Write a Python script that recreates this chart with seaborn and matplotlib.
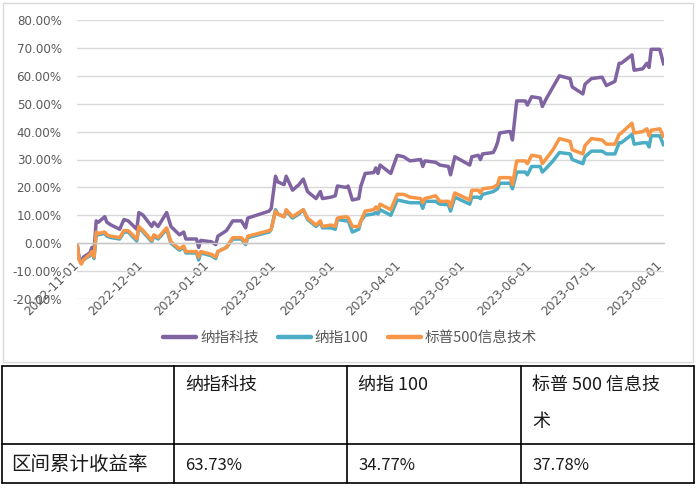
import matplotlib
matplotlib.use("Agg")
import matplotlib.pyplot as plt
import matplotlib.dates as mdates
from matplotlib.lines import Line2D
from matplotlib.patches import Rectangle
from matplotlib.ticker import FuncFormatter, MultipleLocator
import seaborn as sns
import pandas as pd

# ---------------- data (cumulative return, %) ----------------
dates = [
    "2022-11-01", "2022-11-02", "2022-11-03", "2022-11-04", "2022-11-07", "2022-11-08",
    "2022-11-09", "2022-11-10", "2022-11-11", "2022-11-14", "2022-11-15", "2022-11-17",
    "2022-11-21", "2022-11-23", "2022-11-25", "2022-11-29", "2022-11-30", "2022-12-02",
    "2022-12-06", "2022-12-07", "2022-12-09", "2022-12-13", "2022-12-15", "2022-12-19",
    "2022-12-21", "2022-12-22", "2022-12-27", "2022-12-28", "2022-12-29", "2023-01-03",
    "2023-01-05", "2023-01-06", "2023-01-10", "2023-01-13", "2023-01-17", "2023-01-19",
    "2023-01-20", "2023-01-30", "2023-01-31", "2023-02-02", "2023-02-03", "2023-02-06",
    "2023-02-07", "2023-02-10", "2023-02-13", "2023-02-15", "2023-02-17", "2023-02-21",
    "2023-02-23", "2023-02-24", "2023-02-28", "2023-03-02", "2023-03-03", "2023-03-07",
    "2023-03-08", "2023-03-10", "2023-03-13", "2023-03-14", "2023-03-16", "2023-03-20",
    "2023-03-21", "2023-03-22", "2023-03-23", "2023-03-28", "2023-03-31", "2023-04-03",
    "2023-04-06", "2023-04-11", "2023-04-12", "2023-04-13", "2023-04-18", "2023-04-20",
    "2023-04-24", "2023-04-25", "2023-04-27", "2023-05-04", "2023-05-05", "2023-05-08",
    "2023-05-09", "2023-05-10", "2023-05-15", "2023-05-16", "2023-05-17", "2023-05-18",
    "2023-05-22", "2023-05-23", "2023-05-24", "2023-05-26", "2023-05-30", "2023-05-31",
    "2023-06-02", "2023-06-06", "2023-06-07", "2023-06-09", "2023-06-12", "2023-06-15",
    "2023-06-20", "2023-06-21", "2023-06-26", "2023-06-27", "2023-06-30", "2023-07-05",
    "2023-07-07", "2023-07-11", "2023-07-13", "2023-07-14", "2023-07-19", "2023-07-20",
    "2023-07-24", "2023-07-26", "2023-07-27", "2023-07-28", "2023-08-01", "2023-08-03",
]

nasdaq_tech = [
    0, -5.5, -6.5, -5, -3.5, -1.5,
    -2.5, 8, 7.5, 9.5, 7.5, 6.5,
    5, 8.5, 8, 5, 11, 10,
    6, 7.5, 6, 11, 6, 3,
    4, 1.5, 1.5, -1.5, 1, 0.5,
    -0.5, 2.5, 4.5, 8, 8, 5.5,
    9, 11.5, 12.5, 24, 22, 21,
    24, 19, 21, 23, 18.5, 16,
    18.5, 16, 16.5, 17, 20.5, 20,
    20.5, 15.5, 16, 20.5, 25, 25.3,
    27, 25, 28, 25, 31.5, 31,
    29.5, 30, 27.5, 29.5, 29, 28,
    27.5, 24.5, 31, 28, 31, 31.5,
    30, 32, 32.5, 34, 36, 39.5,
    40, 40, 37, 51, 51, 49.5,
    52.5, 52, 49, 52, 56, 60,
    59, 56, 53.5, 57, 59, 59.5,
    56.5, 58, 64.5, 64.5, 67.5, 62,
    62.5, 64.5, 63, 69.5, 69.5, 63.73,
]

nasdaq_100 = [
    0, -5.5, -7, -6, -4.5, -3,
    -5.5, 3.5, 3, 3.5, 2.5, 2,
    1.5, 4, 4, 0.8, 5.5, 4,
    0.5, 2.5, 1.5, 5, 0, -2.5,
    -1.5, -3.5, -3.5, -6, -3.5, -4.5,
    -5.5, -3, -1.5, 1.5, 1.5, -0.5,
    2, 4, 5, 12, 10.5, 9.5,
    11.5, 9, 10.5, 12, 8.5, 6,
    7.5, 5.5, 5.5, 5, 8.5, 8,
    8.2, 4, 5, 8, 10, 10.5,
    11, 10.5, 12, 10, 15.5, 15,
    14.5, 14.5, 12.5, 15, 15, 14,
    13.8, 11.5, 16.5, 14, 16.5, 16.5,
    16, 17.5, 18.5, 19, 19.5, 21.5,
    21.5, 21.5, 19.5, 25.5, 25.5, 24.5,
    27.5, 27.5, 25.5, 27, 29.5, 32.5,
    32, 30, 28.5, 31, 33, 33,
    32, 32, 36, 36, 39, 35.5,
    36, 36, 34.5, 38.5, 38.5, 34.77,
]

sp500_it = [
    0, -6, -7.5, -6, -4, -3,
    -5, 4, 3.5, 4, 3, 2.5,
    2, 4.5, 4.5, 1.5, 6, 4.5,
    1, 3, 2, 5.5, 0.5, -2,
    -1, -3, -3, -5, -3, -4,
    -5, -3, -1.5, 2, 2, 0,
    2.5, 4.5, 5, 11.5, 10.5, 9.5,
    12, 9.5, 11, 12, 9, 6.5,
    8, 6, 6.5, 6, 9, 9.5,
    9.2, 6, 6, 8, 11.5, 12,
    13, 12, 14, 12, 17.5, 17.5,
    16.5, 16, 14.5, 16, 17, 15,
    15, 13, 18, 15.5, 19, 19,
    18, 19.5, 20, 20.5, 21, 23.5,
    23.5, 23.5, 21, 29.5, 29.5, 28.5,
    31.5, 31, 28.5, 30.5, 33.5, 37.5,
    36.5, 33.5, 32, 35, 37.5, 37,
    35.5, 35.5, 39, 39.5, 43, 39.5,
    40, 41, 38.5, 40.5, 41, 37.78,
]

series_names = ["纳指科技", "纳指100", "标普500信息技术"]
colors = ["#8064A2", "#4BACC6", "#F79646"]

table_header = ["", "纳指科技", "纳指 100", "标普 500 信息技\n术"]
row_label = "区间累计收益率"
table_values = ["63.73%", "34.77%", "37.78%"]

# ---------------- build frame ----------------
frames = []
for name, vals in zip(series_names, [nasdaq_tech, nasdaq_100, sp500_it]):
    frames.append(pd.DataFrame({"date": pd.to_datetime(dates), "value": vals, "series": name}))
df = pd.concat(frames, ignore_index=True)

sns.set_style("white")
plt.rcParams["font.family"] = ["DejaVu Sans", "Noto Sans CJK SC"]

W, H = 698, 488
fig = plt.figure(figsize=(W / 100, H / 100), dpi=100)
fig.patch.set_facecolor("white")

def fx(x):
    return x / W

def fy(y):
    return 1 - y / H

# chart frame
fig.add_artist(Rectangle((fx(3), fy(362)), fx(693) - fx(3), fy(3) - fy(362),
                         transform=fig.transFigure, fill=False, edgecolor="#d9d9d9", lw=1))

ax = fig.add_axes([fx(77), fy(299), fx(664) - fx(77), fy(20) - fy(299)])
ax.set_facecolor("none")

sns.lineplot(data=df, x="date", y="value", hue="series", hue_order=series_names,
             palette=colors, linewidth=2.5, legend=False, ax=ax, sort=False)
for ln in ax.get_lines():
    ln.set_solid_joinstyle("round")
    ln.set_solid_capstyle("butt")

ax.set_ylim(-20, 80)
ax.set_xlim(pd.Timestamp(dates[0]), pd.Timestamp(dates[-1]))
ax.yaxis.set_major_locator(MultipleLocator(10))
ax.yaxis.set_major_formatter(FuncFormatter(lambda v, p: f"{v:.2f}%"))
ax.yaxis.grid(True, color="#d9d9d9", lw=1)
ax.xaxis.grid(False)
ax.set_axisbelow(True)

for s in ["top", "right", "left"]:
    ax.spines[s].set_visible(False)
ax.spines["bottom"].set_position(("data", 0))
ax.spines["bottom"].set_color("#c8c8c8")
ax.spines["bottom"].set_linewidth(1)

ax.xaxis.set_major_locator(mdates.MonthLocator(bymonthday=1))
ax.xaxis.set_major_formatter(mdates.DateFormatter("%Y-%m-%d"))
ax.tick_params(axis="x", direction="out", length=4, width=1, color="#c8c8c8",
               labelsize=8.8, labelcolor="#595959", pad=10.5)
ax.tick_params(axis="y", length=0, labelsize=8.6, labelcolor="#595959", pad=11)
for lab in ax.get_xticklabels():
    lab.set_rotation(45)
    lab.set_ha("right")
    lab.set_va("center")
    lab.set_rotation_mode("anchor")
ax.set_xlabel("")
ax.set_ylabel("")

# legend
handles = [Line2D([0], [0], color=c, lw=3.2) for c in colors]
fig.legend(handles, series_names, loc="center", bbox_to_anchor=(fx(350), fy(338)),
           ncol=3, frameon=False, handlelength=2.3, handletextpad=0.25, columnspacing=1.3,
           prop={"family": ["Noto Sans CJK SC", "DejaVu Sans"], "size": 10.5},
           labelcolor="#595959")

# table
cols = [1.5, 174, 347, 521, 694]
rows = [366, 444, 483]
lc = "#000000"
for y in rows:
    fig.add_artist(Line2D([fx(cols[0]), fx(cols[-1])], [fy(y), fy(y)], transform=fig.transFigure,
                          color=lc, lw=1.2))
for x in cols:
    fig.add_artist(Line2D([fx(x), fx(x)], [fy(rows[0]), fy(rows[-1])], transform=fig.transFigure,
                          color=lc, lw=1.2))

tfont = ["Noto Sans CJK SC", "DejaVu Sans"]
tcolor = "#1a1a1a"
for i, txt in enumerate(table_header):
    if not txt:
        continue
    fig.text(fx(cols[i] + 11), fy(376), txt, ha="left", va="top", fontsize=13,
             family=tfont, color=tcolor, linespacing=2.35)
fig.text(fx(cols[0] + 10), fy(465), row_label, ha="left", va="center", fontsize=14,
         family=tfont, color=tcolor)
for i, txt in enumerate(table_values):
    fig.text(fx(cols[i + 1] + 11), fy(465), txt, ha="left", va="center", fontsize=12,
             family=tfont, color=tcolor)

fig.savefig("out.png", dpi=100, facecolor="white")
